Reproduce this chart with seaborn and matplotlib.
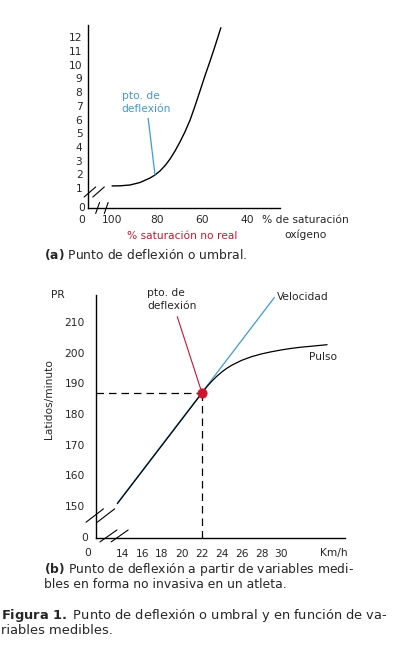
import numpy as np
import pandas as pd
import matplotlib
matplotlib.use("Agg")
import matplotlib.pyplot as plt
import seaborn as sns

# ---- panel (a): lactato vs % saturacion ----
sat_ticks = [100, 80, 60, 40]
lac_ticks = list(range(1, 13))
lac_sat = [100, 96.4, 92.0, 87.6, 83.1, 80.9, 78.7, 76.4, 74.2, 72.0, 69.8, 67.6,
           65.3, 63.1, 60.9, 58.7, 56.4, 54.2, 51.6]
lac_val = [1.15, 1.16, 1.22, 1.40, 1.73, 1.95, 2.24, 2.64, 3.12, 3.70, 4.36, 5.09,
           5.96, 6.99, 8.08, 9.18, 10.27, 11.36, 12.7]
defl_a = (80.9, 1.95)

# ---- panel (b): pulso / velocidad vs km/h ----
kmh_ticks = list(range(14, 31, 2))
pr_ticks = [150, 160, 170, 180, 190, 200, 210]
vel_x = [13.5, 22, 29.3]
vel_y = [151, 187, 218]
pulso_x = [13.5, 22, 22.5, 23, 23.5, 24, 24.5, 25, 26, 27, 28, 29, 30, 31, 32, 33, 34.6]
pulso_y = [150.8, 186.8, 188.9, 190.7, 192.3, 193.7, 194.9, 195.9, 197.5, 198.7, 199.6,
           200.3, 200.9, 201.4, 201.8, 202.1, 202.6]
defl_b = (22, 187)

blue = "#3b9bd6"
red = "#d0142c"

sns.set_style("white")
plt.rcParams["font.family"] = ["DejaVu Sans"]
fs = 7.7
cap_fs = 8.9

W, H = 398, 661
fig = plt.figure(figsize=(W / 100, H / 100), dpi=100)


def px_axes(x0, y0, x1, y1):
    return fig.add_axes([x0 / W, 1 - y1 / H, (x1 - x0) / W, (y1 - y0) / H])


def brk(ax, xs, ys):
    for dx in (0, 0.045):
        ax.plot([xs[0] + dx, xs[1] + dx], ys, color="black", lw=0.8,
                transform=ax.transAxes, clip_on=False)


# panel a
ax1 = px_axes(88, 25, 280, 208)
dfa = pd.DataFrame({"sat": lac_sat, "lac": lac_val})
sns.lineplot(data=dfa, x="sat", y="lac", ax=ax1, color="black", lw=1.0, sort=False)
ax1.set_xlim(110.7, 25.3)
ax1.set_ylim(-0.46, 12.9)
ax1.set_xticks(sat_ticks)
ax1.set_yticks(lac_ticks)
ax1.tick_params(axis="both", length=0, labelsize=fs)
ax1.tick_params(axis="x", pad=5)
ax1.tick_params(axis="y", pad=4)
ax1.set_xlabel("")
ax1.set_ylabel("")
sns.despine(ax=ax1)
for s in ("left", "bottom"):
    ax1.spines[s].set_color("black")
    ax1.spines[s].set_linewidth(1.0)
ax1.text(-0.015, 0, "0", transform=ax1.transAxes, ha="right", va="center", fontsize=fs)
ax1.text(-0.015, -0.065, "0", transform=ax1.transAxes, ha="right", va="center", fontsize=fs)
ax1.annotate("pto. de\ndeflexión", xy=defl_a, xytext=(0.175, 0.515), textcoords="axes fraction",
             color=blue, fontsize=fs, ha="left", va="bottom", linespacing=1.3,
             arrowprops=dict(arrowstyle="-", color=blue, lw=0.9, shrinkA=1, shrinkB=0))
ax1.text(0.905, -0.065, "% de saturación", transform=ax1.transAxes, ha="left", va="center",
         fontsize=fs, clip_on=False)
ax1.text(1.135, -0.145, "oxígeno", transform=ax1.transAxes, ha="center", va="center",
         fontsize=fs, clip_on=False)
ax1.text(0.49, -0.155, "% saturación no real", transform=ax1.transAxes, ha="center",
         va="center", fontsize=fs, color=red)
brk(ax1, (-0.02, 0.04), (0.06, 0.115))
brk(ax1, (0.04, 0.06), (-0.03, 0.03))

fig.text(44 / W, 1 - 254 / H, r"$\bf{(a)}$ Punto de deflexión o umbral.", fontsize=cap_fs,
         va="center", ha="left")

# panel b
ax2 = px_axes(96, 295, 345, 538)
dfv = pd.DataFrame({"kmh": vel_x, "pr": vel_y})
dfp = pd.DataFrame({"kmh": pulso_x, "pr": pulso_y})
sns.lineplot(data=dfv, x="kmh", y="pr", ax=ax2, color=blue, lw=0.9)
sns.lineplot(data=dfp, x="kmh", y="pr", ax=ax2, color="black", lw=0.9)
ax2.set_xlim(11.35, 36.4)
ax2.set_ylim(139.6, 218.8)
ax2.set_xticks(kmh_ticks)
ax2.set_yticks(pr_ticks)
ax2.tick_params(axis="both", length=0, labelsize=fs)
ax2.tick_params(axis="x", pad=8)
ax2.tick_params(axis="y", pad=8)
ax2.set_xlabel("")
ax2.set_ylabel("")
sns.despine(ax=ax2)
for s in ("left", "bottom"):
    ax2.spines[s].set_color("black")
    ax2.spines[s].set_linewidth(1.0)
ax2.plot([ax2.get_xlim()[0], defl_b[0]], [defl_b[1], defl_b[1]], color="black", lw=0.9,
         ls=(0, (6, 4)))
ax2.plot([defl_b[0], defl_b[0]], [ax2.get_ylim()[0], defl_b[1]], color="black", lw=0.9,
         ls=(0, (6, 4)))
sns.scatterplot(x=[defl_b[0]], y=[defl_b[1]], ax=ax2, color=red, s=45, edgecolor=red, zorder=5)
ax2.annotate("pto. de\ndeflexión", xy=defl_b, xytext=(0.205, 0.935), textcoords="axes fraction",
             fontsize=fs, ha="left", va="bottom", linespacing=1.3,
             arrowprops=dict(arrowstyle="-", color=red, lw=0.8, shrinkA=2, shrinkB=0))
ax2.text(vel_x[-1] + 0.3, vel_y[-1], "Velocidad", fontsize=fs, ha="left", va="center")
ax2.text(32.75, 198.6, "Pulso", fontsize=fs, ha="left", va="center")
ax2.text(-0.03, 0, "0", transform=ax2.transAxes, ha="right", va="center", fontsize=fs)
ax2.text(-0.032, -0.062, "0", transform=ax2.transAxes, ha="center", va="center", fontsize=fs)
ax2.text(0.955, -0.062, "Km/h", transform=ax2.transAxes, ha="center", va="center", fontsize=fs)
ax2.text(-0.19, 0.57, "Latidos/minuto", transform=ax2.transAxes, rotation=90, ha="center",
         va="center", fontsize=fs)
ax2.text(-0.153, 1.0, "PR", transform=ax2.transAxes, ha="center", va="center", fontsize=fs)
brk(ax2, (-0.04, 0.03), (0.065, 0.12))
brk(ax2, (0.016, 0.084), (-0.016, 0.033))

fig.text(44 / W, 1 - 570 / H, r"$\bf{(b)}$ Punto de deflexión a partir de variables medi-",
         fontsize=cap_fs, va="center", ha="left")
fig.text(44 / W, 1 - 585 / H, "bles en forma no invasiva en un atleta.",
         fontsize=cap_fs, va="center", ha="left")
fig.text(1 / W, 1 - 615 / H, r"$\bf{Figura\ 1.}$ Punto de deflexión o umbral y en función de va-",
         fontsize=9.4, va="center", ha="left")
fig.text(1 / W, 1 - 630 / H, "riables medibles.", fontsize=9.4, va="center", ha="left")

fig.savefig("out.png", dpi=100)
